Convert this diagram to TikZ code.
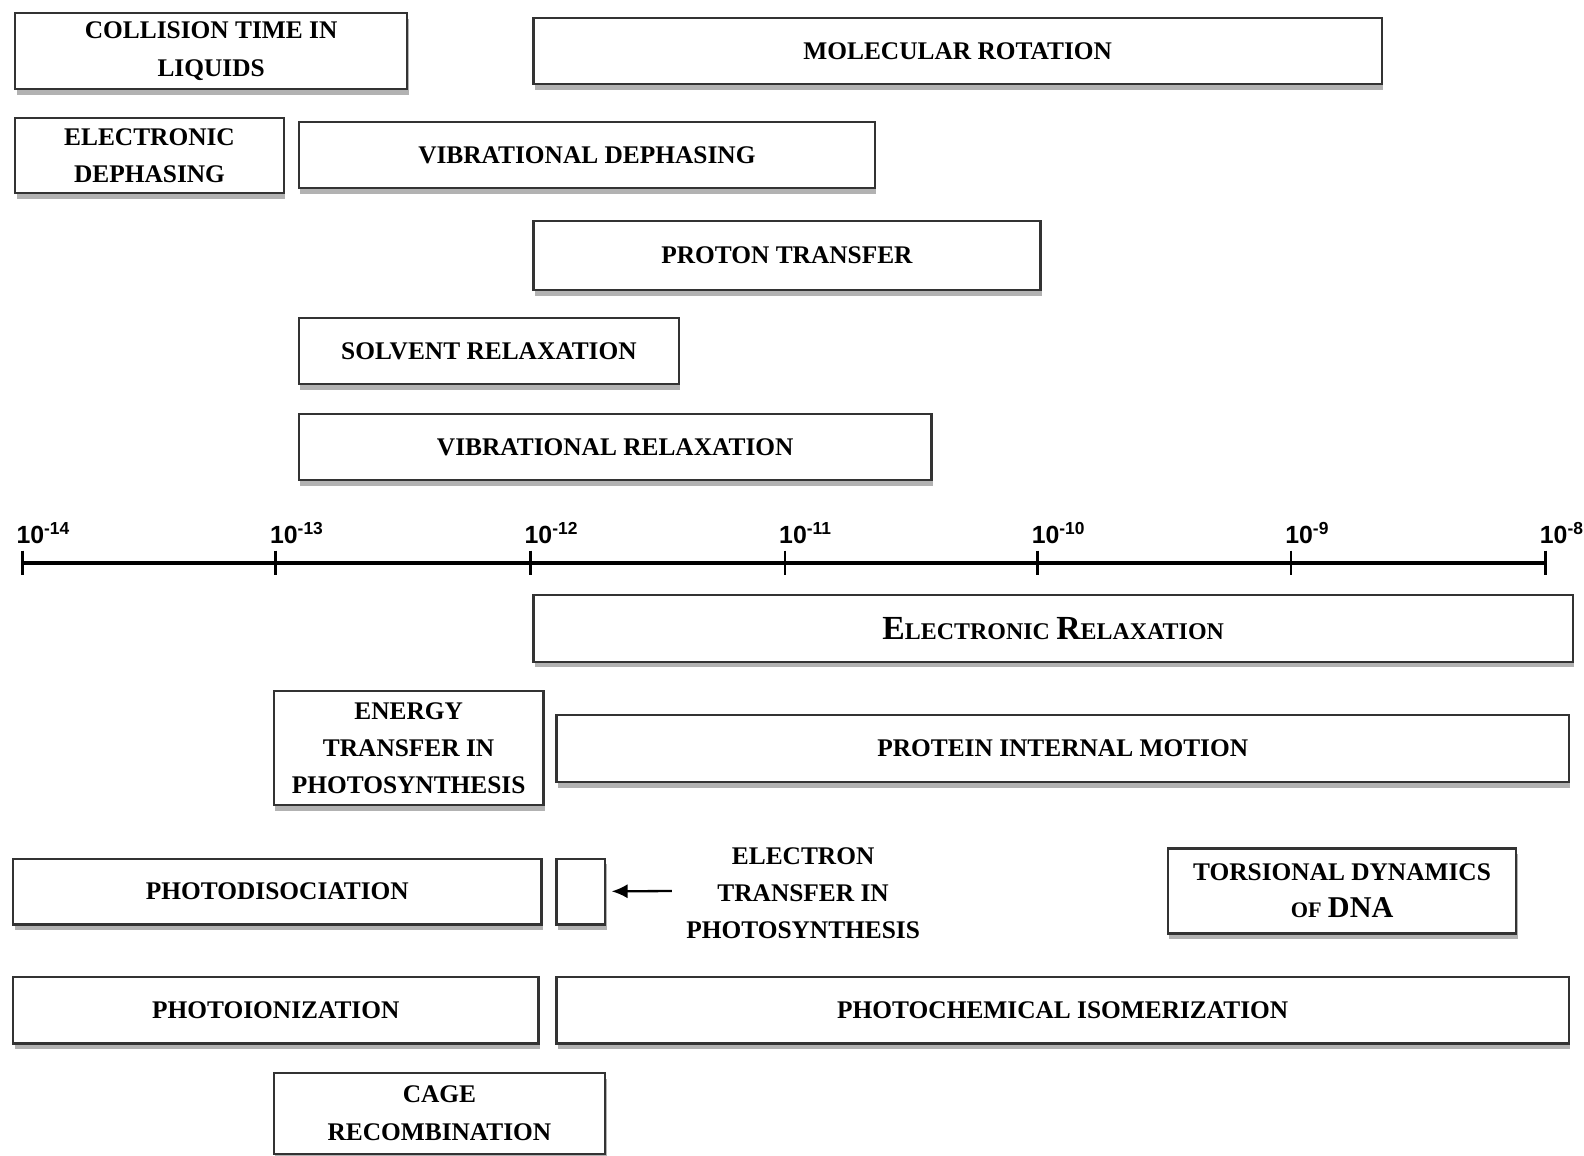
\documentclass[tikz,border=0pt]{standalone}
\usepackage{fontspec}
\setmainfont{Liberation Serif}
\setsansfont{Liberation Sans}
\usetikzlibrary{shadows,arrows.meta}

\tikzset{
    caja/.style={draw=black!80, line width=1.3pt, fill=white, align=center, inner sep=0pt,
        font=\fontsize{14.3}{21}\selectfont\bfseries,
        drop shadow={shadow xshift=0.8pt, shadow yshift=-3.2pt, opacity=0.3, fill=black}},
    marca/.style={font=\sffamily\bfseries\fontsize{14}{16}\selectfont, anchor=south west, inner sep=0pt},
    flecha/.style={line width=1.3pt, -{Latex[length=9pt,width=8pt]}, shorten >=3pt},
}
\newcommand{\pot}[1]{10\textsuperscript{-#1}}
\newcommand{\versalita}[2]{{\fontsize{19}{21}\selectfont #1}{\fontsize{13.5}{21}\selectfont #2}}
% caja de proceso: nombre, x1, y1, x2, y2 (pixeles), texto
\newcommand{\proceso}[6]{%
    \pgfmathsetmacro{\ancho}{(#4-#2)*0.02}%
    \pgfmathsetmacro{\alto}{(#5-#3)*0.02}%
    \node[caja, minimum width=\ancho cm, minimum height=\alto cm] (#1)
        at ({(#2+#4)/2},{(#3+#5)/2}) {#6};%
}

\begin{document}
\begin{tikzpicture}[x=0.02cm, y=-0.02cm]
    \useasboundingbox (0,0) rectangle (1568,1144);
    \clip (0,0) rectangle (1568,1144);

    % Procesos por encima del eje
    \proceso{colision}{15}{13}{403}{88}{COLLISION TIME IN\\LIQUIDS}
    \proceso{rotacion}{528}{18}{1368}{83}{MOLECULAR ROTATION}
    \proceso{edefase}{15}{117}{281}{191}{ELECTRONIC\\DEPHASING}
    \proceso{vdefase}{296}{121}{866}{186}{VIBRATIONAL DEPHASING}
    \proceso{proton}{528}{219}{1030}{287}{PROTON TRANSFER}
    \proceso{solvente}{296}{315}{672}{380}{SOLVENT RELAXATION}
    \proceso{vrelaj}{296}{410}{922}{475}{VIBRATIONAL RELAXATION}

    % Procesos por debajo del eje
    \proceso{erelaj}{528}{589}{1557}{655}{\versalita{E}{LECTRONIC} \versalita{R}{ELAXATION}}
    \proceso{energia}{271}{684}{538}{797}{ENERGY\\TRANSFER IN\\PHOTOSYNTHESIS}
    \proceso{proteina}{551}{708}{1553}{774}{PROTEIN INTERNAL MOTION}
    \proceso{fotodis}{13}{850}{536}{915}{PHOTODISOCIATION}
    \proceso{etf}{551}{850}{599}{915}{}
    \proceso{torsion}{1156}{840}{1501}{924}{TORSIONAL DYNAMICS\\{\fontsize{12.5}{21}\selectfont OF} {\fontsize{17}{21}\selectfont DNA}}
    \proceso{fotoion}{13}{967}{533}{1033}{PHOTOIONIZATION}
    \proceso{isomer}{551}{967}{1553}{1033}{PHOTOCHEMICAL ISOMERIZATION}
    \proceso{jaula}{271}{1062}{599}{1142}{CAGE\\RECOMBINATION}

    % Eje de tiempos
    \foreach \i/\px in {14/22, 13/273, 12/525, 11/777, 10/1027, 9/1278, 8/1530} {
        \coordinate (t\i) at (\px,557);
        \draw[line width=1.6pt] (\px,545) -- (\px,569);
        \node[marca] (m\i) at (\px-6,539) {\pot{\i}};
    }
    \draw[line width=2.2pt] (t14) -- (t8);

    % Transferencia electronica
    \node[font=\fontsize{14.3}{21}\selectfont\bfseries, align=center] (etxt) at (795,884)
        {ELECTRON\\TRANSFER IN\\PHOTOSYNTHESIS};
    \coordinate (cola) at (665,882);
    \draw[flecha] (cola) -- (etf);
\end{tikzpicture}
\end{document}
